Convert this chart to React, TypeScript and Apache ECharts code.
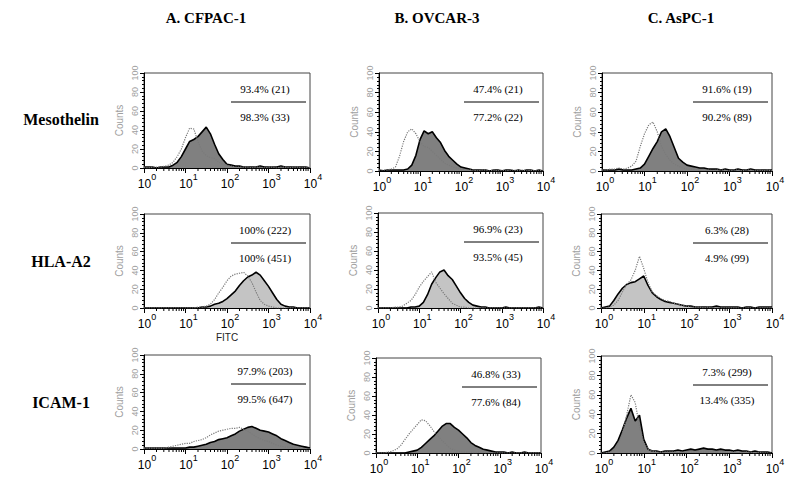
import React, { useEffect, useRef } from "react";
import * as echarts from "echarts";

// ---------- data ----------
const COLUMNS = ["A. CFPAC-1", "B. OVCAR-3", "C. AsPC-1"];
const ROWS = ["Mesothelin", "HLA-A2", "ICAM-1"];
const X_EXPONENTS = [0, 1, 2, 3, 4];
const Y_TICKS = [0, 20, 40, 60, 80, 100];

// bin centres in decades (log10 of FITC intensity)
const BINS = [
  0.0, 0.1, 0.2, 0.3, 0.4, 0.5, 0.6, 0.7, 0.8, 0.9,
  1.0, 1.1, 1.2, 1.3, 1.4, 1.5, 1.6, 1.7, 1.8, 1.9,
  2.0, 2.1, 2.2, 2.3, 2.4, 2.5, 2.6, 2.7, 2.8, 2.9,
  3.0, 3.1, 3.2, 3.3, 3.4, 3.5, 3.6, 3.7, 3.8, 3.9,
  4.0,
];

// Mesothelin
const CONTROL_A1 = [1,0,1,1,1,2,3,6,12,20, 32,42,41,28,18,13,11,10,6,4, 3,2,1,1,1,1,0,1,1,0, 1,1,0,1,1,0,1,1,0,1, 0];
const STAINED_A1 = [1,1,1,0,1,1,1,3,6,12, 20,28,30,33,38,43,36,25,15,9, 4,3,2,2,1,1,1,1,2,1, 1,1,1,2,1,1,1,1,1,1, 0];
const CONTROL_B1 = [1,1,1,2,4,15,30,40,43,38, 30,25,24,20,16,12,8,6,4,3, 2,1,1,1,0,1,1,0,1,0, 1,0,1,1,0,1,0,1,0,1, 0];
const STAINED_B1 = [1,0,1,1,1,1,1,2,6,16, 32,41,38,40,34,29,21,15,11,7, 4,3,2,1,1,1,1,0,1,1, 0,1,1,0,1,0,1,1,0,1, 0];
const CONTROL_C1 = [1,1,2,2,3,2,3,5,10,25, 38,47,50,40,25,17,11,7,5,3, 2,2,1,1,1,1,0,1,1,1, 0,1,1,0,1,1,0,1,0,1, 0];
const STAINED_C1 = [1,1,1,1,2,1,1,1,2,3, 7,15,23,30,40,43,35,24,13,9, 6,5,4,3,3,2,2,2,1,2, 1,1,2,1,1,2,1,1,1,1, 1];
// HLA-A2
const CONTROL_A2 = [0,0,0,0,0,0,0,0,0,0, 0,0,0,1,1,2,4,9,16,22, 29,34,36,37,38,34,27,17,8,4, 2,1,0,0,0,0,0,0,0,0, 0];
const STAINED_A2 = [0,0,0,0,0,0,0,0,0,0, 0,0,0,0,1,1,2,4,5,7, 10,14,18,24,29,33,35,38,35,29, 23,16,9,4,2,1,1,0,0,0, 0];
const CONTROL_B2 = [0,0,0,0,1,1,2,5,8,14, 22,28,33,38,27,21,15,10,5,3, 1,1,0,0,0,0,0,0,0,0, 0,0,0,0,0,0,0,0,0,0, 0];
const STAINED_B2 = [0,0,0,0,0,0,0,0,1,1, 2,6,14,25,32,38,40,34,30,23, 16,10,6,3,2,1,1,0,0,0, 0,1,0,0,0,0,0,0,0,1, 0];
const CONTROL_C2 = [0,0,1,3,8,17,25,30,40,55, 42,27,17,13,10,8,7,5,4,3, 2,1,1,1,0,1,0,0,0,0, 0,0,0,0,0,0,0,0,0,0, 0];
const STAINED_C2 = [0,1,2,8,15,21,25,27,28,31, 34,24,16,12,9,7,6,5,4,3, 2,2,1,1,1,1,1,2,1,1, 1,1,1,0,1,1,0,1,1,1, 1];
// ICAM-1
const CONTROL_A3 = [1,1,1,1,1,1,2,3,4,5, 6,6,8,9,10,12,15,17,19,20, 21,22,22,23,21,19,16,13,11,9, 8,6,4,3,2,2,1,1,1,0, 0];
const STAINED_A3 = [1,1,1,1,1,1,1,1,1,1, 1,2,2,3,4,5,7,8,10,11, 12,14,16,19,21,23,24,22,20,19, 18,16,14,11,9,7,5,4,3,2, 1];
const CONTROL_B3 = [0,0,0,1,2,4,8,14,20,25, 30,35,34,29,23,18,13,9,5,3, 2,1,1,1,0,1,0,0,0,0, 0,0,0,0,0,0,0,0,0,0, 0];
const STAINED_B3 = [0,0,0,0,0,0,0,0,1,2, 3,6,10,14,18,23,28,31,31,27, 24,20,16,11,8,6,4,3,2,1, 1,1,0,1,0,0,1,0,0,0, 0];
const CONTROL_C3 = [0,0,1,3,9,20,39,60,52,27, 11,4,2,1,1,1,1,1,1,1, 1,1,1,1,1,1,1,1,1,1, 1,1,1,0,1,1,0,1,0,0, 0];
const STAINED_C3 = [0,1,2,6,13,24,36,46,33,39, 14,4,2,2,1,2,2,2,3,2, 3,4,3,4,5,4,4,3,4,3, 3,2,3,2,2,1,2,1,1,1, 0];

const CONTROLS = [CONTROL_A1, CONTROL_B1, CONTROL_C1, CONTROL_A2, CONTROL_B2, CONTROL_C2, CONTROL_A3, CONTROL_B3, CONTROL_C3];
const STAINED = [STAINED_A1, STAINED_B1, STAINED_C1, STAINED_A2, STAINED_B2, STAINED_C2, STAINED_A3, STAINED_B3, STAINED_C3];

const TOP_LABELS = ["93.4% (21)", "47.4% (21)", "91.6% (19)", "100% (222)", "96.9% (23)", "6.3% (28)", "97.9% (203)", "46.8% (33)", "7.3% (299)"];
const BOTTOM_LABELS = ["98.3% (33)", "77.2% (22)", "90.2% (89)", "100% (451)", "93.5% (45)", "4.9% (99)", "99.5% (647)", "77.6% (84)", "13.4% (335)"];

// ---------- layout ----------
const PANELS = [
  { left: 144, top: 73, width: 166, height: 95 },
  { left: 379, top: 73, width: 164, height: 98 },
  { left: 602, top: 73, width: 170, height: 98 },
  { left: 144, top: 214, width: 166, height: 94 },
  { left: 378, top: 213, width: 165, height: 95 },
  { left: 601, top: 214, width: 171, height: 94 },
  { left: 144, top: 355, width: 166, height: 94 },
  { left: 376, top: 358, width: 165, height: 95 },
  { left: 601, top: 356, width: 171, height: 97 },
];
const HEADER_X = [206, 437, 681];
const HEADER_Y = 18;
const ROW_LABEL_X = 61;
const ROW_LABEL_Y = [119, 261, 402];
const FILLS = ["#808080", "#c4c4c4", "#808080"];

const SERIF = '"Liberation Serif", "Times New Roman", serif';
const SANS = '"Liberation Sans", Arial, sans-serif';

// log-spaced minor tick positions (axis decoration)
const MINOR_TICKS: number[] = [];
for (let d = 0; d < 4; d++) for (let k = 2; k <= 9; k++) MINOR_TICKS.push(d + Math.log10(k));

export default function App() {
  const ref = useRef<HTMLDivElement>(null);
  useEffect(() => {
    if (!ref.current) return;
    const chart = echarts.init(ref.current, undefined, { renderer: "svg" });

    const grids: any[] = [];
    const xAxes: any[] = [];
    const yAxes: any[] = [];
    const series: any[] = [];
    const graphics: any[] = [];

    PANELS.forEach((p, i) => {
      const row = Math.floor(i / 3);
      grids.push({
        left: p.left, top: p.top, width: p.width, height: p.height,
        show: true, borderColor: "#444", borderWidth: 1, backgroundColor: "transparent",
      });
      xAxes.push({
        gridIndex: i, type: "value", min: 0, max: 4, interval: 1,
        name: i === 3 ? "FITC" : "",
        nameLocation: "middle", nameGap: 24,
        nameTextStyle: { fontFamily: SANS, fontSize: 10, color: "#222" },
        axisLine: { show: true, onZero: false, lineStyle: { color: "#000", width: 1 } },
        axisTick: { show: true, inside: false, length: 5, lineStyle: { color: "#000" } },
        splitLine: { show: false },
        axisLabel: {
          margin: 4,
          formatter: (v: number) => `{b|10}{e|${v}}`,
          rich: {
            b: { fontFamily: SANS, fontSize: 12, color: "#000", lineHeight: 18, verticalAlign: "bottom", padding: [0, 0, 0, 6] },
            e: { fontFamily: SANS, fontSize: 9, color: "#000", lineHeight: 10, verticalAlign: "top" },
          },
        },
      });
      yAxes.push({
        gridIndex: i, type: "value", min: 0, max: 100, interval: 20,
        name: "Counts", nameLocation: "middle", nameRotate: 90, nameGap: 20,
        nameTextStyle: { fontFamily: SANS, fontSize: 10, color: "#a0a0a0" },
        axisLine: { show: true, lineStyle: { color: "#000", width: 1 } },
        axisTick: { show: true, length: 4, lineStyle: { color: "#000" } },
        minorTick: { show: true, splitNumber: 5, length: 2, lineStyle: { color: "#000" } },
        splitLine: { show: false },
        axisLabel: { rotate: 90, margin: 5, fontFamily: SANS, fontSize: 9, color: "#a0a0a0" },
      });
      series.push({
        type: "line", xAxisIndex: i, yAxisIndex: i,
        data: BINS.map((b, j) => [b, STAINED[i][j]]),
        showSymbol: false, symbol: "none",
        lineStyle: { color: "#000", width: 1.6 },
        areaStyle: { color: FILLS[row], opacity: 1 },
        z: 2,
      });
      series.push({
        type: "line", xAxisIndex: i, yAxisIndex: i,
        data: BINS.map((b, j) => [b, CONTROLS[i][j]]),
        showSymbol: false, symbol: "none",
        lineStyle: { color: "#7a7a7a", width: 1.2, type: "dotted" },
        z: 3,
      });
      series.push({
        type: "custom", xAxisIndex: i, yAxisIndex: i, clip: false, silent: true,
        data: MINOR_TICKS.map((m) => [m, 0]),
        encode: { x: 0, y: 1 },
        renderItem: (_params: any, api: any) => {
          const pt = api.coord([api.value(0), 0]);
          return {
            type: "line",
            shape: { x1: pt[0], y1: pt[1], x2: pt[0], y2: pt[1] + 3 },
            style: { stroke: "#000", lineWidth: 1 },
          };
        },
        z: 4,
      });

      const right = p.left + p.width;
      const cx = right - 45;
      graphics.push({
        type: "text", x: cx, y: p.top + 16,
        style: { text: TOP_LABELS[i], textAlign: "center", textVerticalAlign: "middle", fontFamily: SERIF, fontSize: 11, fill: "#000" },
      });
      graphics.push({
        type: "line", shape: { x1: right - 79, y1: p.top + 29, x2: right - 4, y2: p.top + 29 },
        style: { stroke: "#000", lineWidth: 1 },
      });
      graphics.push({
        type: "text", x: cx, y: p.top + 44,
        style: { text: BOTTOM_LABELS[i], textAlign: "center", textVerticalAlign: "middle", fontFamily: SERIF, fontSize: 11, fill: "#000" },
      });
    });

    COLUMNS.forEach((c, k) => {
      graphics.push({
        type: "text", x: HEADER_X[k], y: HEADER_Y,
        style: { text: c, textAlign: "center", textVerticalAlign: "middle", fontFamily: SERIF, fontWeight: "bold", fontSize: 15, fill: "#000" },
      });
    });
    ROWS.forEach((r, k) => {
      graphics.push({
        type: "text", x: ROW_LABEL_X, y: ROW_LABEL_Y[k],
        style: { text: r, textAlign: "center", textVerticalAlign: "middle", fontFamily: SERIF, fontWeight: "bold", fontSize: 16, fill: "#000" },
      });
    });

    chart.setOption({
      animation: false,
      backgroundColor: "#fff",
      grid: grids,
      xAxis: xAxes,
      yAxis: yAxes,
      series,
      graphic: graphics,
    });
    return () => chart.dispose();
  }, []);

  return (
    <div
      ref={ref}
      style={{ position: "fixed", left: 0, top: 0, width: 800, height: 498, background: "#fff" }}
    />
  );
}
